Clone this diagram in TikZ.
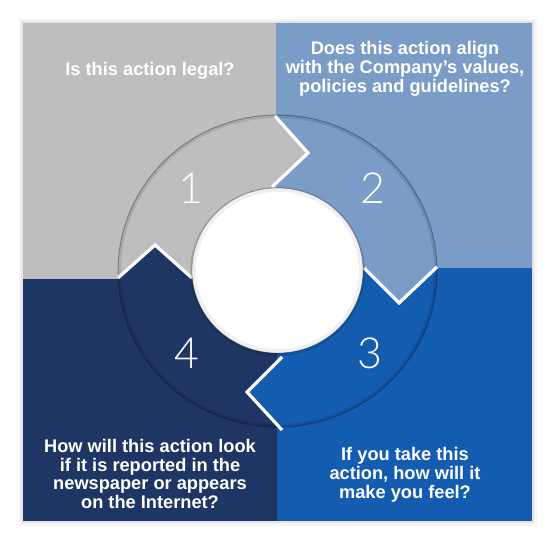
\documentclass[tikz,border=0pt]{standalone}
\usepackage{fontspec}
\setmainfont{Liberation Sans}
\newfontfamily\numfont{Lato Light}
\definecolor{chkgrey}{RGB}{190,190,192}
\definecolor{chkpale}{RGB}{122,156,199}
\definecolor{chkblue}{RGB}{20,92,176}
\definecolor{chknavy}{RGB}{31,54,100}

\begin{document}
\begin{tikzpicture}[x=1bp,y=-1bp,font=\fontsize{18.3}{19}\selectfont\bfseries]
  \useasboundingbox (0,0) rectangle (554,543);
  % soft shadow round the square
  \fill[black,opacity=0.04] (19,19) rectangle (537,526);
  \fill[black,opacity=0.07] (21,21) rectangle (534,523);
  % the four quarters
  \fill[chkgrey] (23,23) rectangle (276,279);
  \fill[chkpale] (276,23) rectangle (532,268);
  \fill[chkblue] (277,268) rectangle (532,521);
  \fill[chknavy] (23,279) rectangle (277,521);
  % arrow heads of the ring
  \fill[chkgrey] (275,116) -- (308,153) -- (272,187) -- (272,116) -- cycle;
  \fill[chkpale] (437,267) -- (399,303) -- (364,268) -- (364,266) -- (437,266) -- cycle;
  \fill[chkblue] (282,357) -- (247,392) -- (282,430) -- (284,430) -- (284,357) -- cycle;
  \fill[chknavy] (118,278) -- (155,245) -- (192,278) -- (192,281) -- (118,281) -- cycle;
  % ring edge
  \draw[black,opacity=0.10,line width=3] (277.5,271) ellipse [x radius=158, y radius=154.5];
  \draw[black,opacity=0.30,line width=1] (277.5,271) ellipse [x radius=159.5, y radius=156];
  % white chevrons
  \draw[white,line width=3.2] (275,116) -- (308,153) -- (272,187);
  \draw[white,line width=3.2] (437,267) -- (399,303) -- (364,268);
  \draw[white,line width=3.2] (282,357) -- (247,392) -- (282,430);
  \draw[white,line width=3.2] (118,278) -- (155,245) -- (192,278);
  % centre
  \fill[black,opacity=0.12] (277.5,271.5) ellipse [x radius=87.5, y radius=84.5];
  \fill[white] (277.5,270.5) ellipse [x radius=85.5, y radius=82.5];
  \draw[black,opacity=0.06,line width=4] (277.5,270.5) ellipse [x radius=83.5, y radius=80.5];
  \draw[black,opacity=0.25,line width=0.8] (277.5,270.5) ellipse [x radius=85.5, y radius=82.5];
  % numbers
  \node[white,font=\numfont\fontsize{43}{43}\selectfont] (n1) at (191,188) {1};
  \node[white,font=\numfont\fontsize{43}{43}\selectfont] (n2) at (373,188) {2};
  \node[white,font=\numfont\fontsize{43}{43}\selectfont] (n3) at (370,353) {3};
  \node[white,font=\numfont\fontsize{43}{43}\selectfont] (n4) at (187,353) {4};
  % questions
  \node[white] (q1) at (150,71) {Is this action legal?};
  \node[white,align=center] (q2) at (405,69) {Does this action align\\with the Company's values,\\policies and guidelines?};
  \node[white,align=center] (q3) at (405,475) {If you take this\\action, how will it\\make you feel?};
  \node[white,align=center] (q4) at (150,474) {How will this action look\\if it is reported in the\\newspaper or appears\\on the Internet?};
\end{tikzpicture}
\end{document}
